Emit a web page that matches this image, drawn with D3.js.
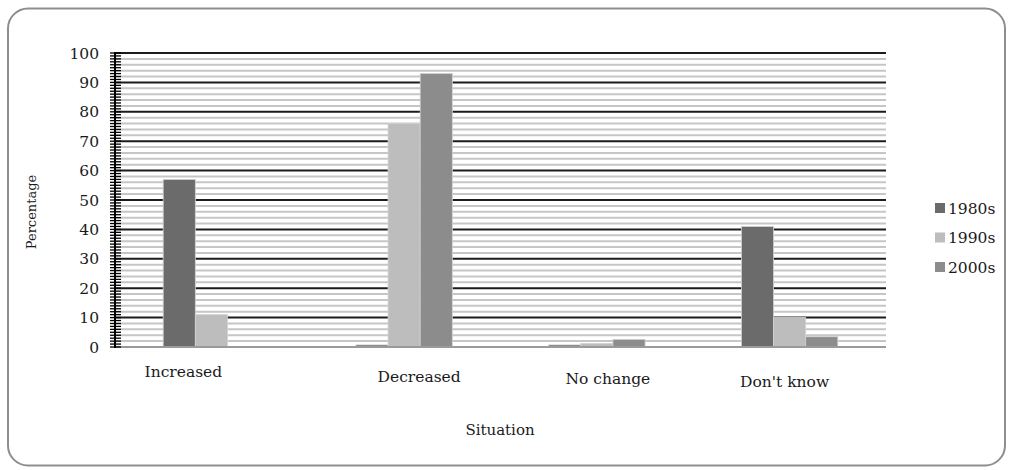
<!DOCTYPE html>
<html>
<head>
<meta charset="utf-8">
<script src="https://cdn.jsdelivr.net/npm/d3@7"></script>
<style>
  html, body { margin: 0; padding: 0; background: #fff; }
  svg { display: block; }
  text { font-family: "DejaVu Serif", "Liberation Serif", serif; fill: #1a1a1a; }
</style>
</head>
<body>
<svg id="chart" width="1012" height="470"></svg>
<script>
// Survey responses by decade (percentage)
const categories = ["Increased", "Decreased", "No change", "Don't know"];
const seriesNames = ["1980s", "1990s", "2000s"];
const values1980s = [57, 0.7, 0.7, 41];
const values1990s = [11, 76, 1.2, 10];
const values2000s = [0, 93, 2.6, 3.5];
const yTickValues = [0, 10, 20, 30, 40, 50, 60, 70, 80, 90, 100];
const seriesColors = ["#6b6b6b", "#bdbdbd", "#8c8c8c"];

const seriesValues = [values1980s, values1990s, values2000s];
const rows = categories.map((c, i) => ({
  category: c,
  values: seriesNames.map((s, j) => ({ series: s, value: seriesValues[j][i] }))
}));

const svg = d3.select("#chart");
const plot = { left: 115, right: 886, top: 53, bottom: 347 };

// outer frame
svg.append("rect")
  .attr("x", 8).attr("y", 8.5)
  .attr("width", 997).attr("height", 457)
  .attr("rx", 20).attr("ry", 20)
  .attr("fill", "#fff")
  .attr("stroke", "#8e8e8e").attr("stroke-width", 2);

const y = d3.scaleLinear().domain([0, 100]).range([plot.bottom, plot.top]);
const x = d3.scaleBand().domain(categories)
  .range([plot.left, plot.right]).paddingInner(0.5).paddingOuter(0.25);
const xSeries = d3.scaleBand().domain(seriesNames).range([0, x.bandwidth()]);
const color = d3.scaleOrdinal().domain(seriesNames).range(seriesColors);

// minor gridlines every 2
const minor = d3.range(2, 100, 2).filter(v => v % 10 !== 0);
svg.append("g").selectAll("line").data(minor).join("line")
  .attr("x1", plot.left).attr("x2", plot.right)
  .attr("y1", d => y(d)).attr("y2", d => y(d))
  .attr("stroke", "#c6c6c6").attr("stroke-width", 2);

// major gridlines every 10
svg.append("g").selectAll("line").data(yTickValues.filter(v => v > 0)).join("line")
  .attr("x1", plot.left).attr("x2", plot.right)
  .attr("y1", d => y(d)).attr("y2", d => y(d))
  .attr("stroke", "#1c1c1c").attr("stroke-width", 2);

// bars
const groups = svg.append("g").selectAll("g").data(rows).join("g")
  .attr("transform", d => `translate(${x(d.category)},0)`);
groups.selectAll("rect").data(d => d.values).join("rect")
  .attr("x", d => xSeries(d.series))
  .attr("width", xSeries.bandwidth())
  .attr("y", d => y(d.value))
  .attr("height", d => y(0) - y(d.value))
  .attr("fill", d => color(d.series))
  .attr("stroke", d => d.value > 0 ? "#d2d2d2" : "none")
  .attr("stroke-width", 0.8);

// baseline
svg.append("line")
  .attr("x1", plot.left).attr("x2", plot.right)
  .attr("y1", y(0)).attr("y2", y(0))
  .attr("stroke", "#9a9a9a").attr("stroke-width", 2);

// y axis with crossing ticks
const yAxis = svg.append("g").attr("transform", `translate(${plot.left},0)`);
yAxis.append("line")
  .attr("x1", 0).attr("x2", 0)
  .attr("y1", y(0) + 1).attr("y2", y(100) - 1)
  .attr("stroke", "#000").attr("stroke-width", 2);
yAxis.selectAll("line.tick").data(d3.range(0, 101, 1)).join("line")
  .attr("class", "tick")
  .attr("x1", -5).attr("x2", 6)
  .attr("y1", d => y(d)).attr("y2", d => y(d))
  .attr("stroke", "#000").attr("stroke-width", 1.3);
yAxis.selectAll("text").data(yTickValues).join("text")
  .attr("x", -16).attr("y", d => y(d))
  .attr("dy", "0.36em")
  .attr("text-anchor", "end")
  .style("font-size", "15.5px")
  .text(d => d);

// category labels
const labelShift = [[-28, -7], [15, -2], [11, 0], [-5, 3]];
svg.append("g").selectAll("text").data(categories).join("text")
  .attr("x", (d, i) => x(d) + x.bandwidth() / 2 + labelShift[i][0])
  .attr("y", (d, i) => 384 + labelShift[i][1])
  .attr("text-anchor", "middle")
  .style("font-size", "15.5px")
  .text(d => d);

// axis titles
svg.append("text")
  .attr("x", 500).attr("y", 435)
  .attr("text-anchor", "middle")
  .style("font-size", "15px")
  .text("Situation");
svg.append("text")
  .attr("transform", "translate(36,212) rotate(-90)")
  .attr("text-anchor", "middle")
  .style("font-size", "13px")
  .text("Percentage");

// legend
const legend = svg.append("g").attr("transform", "translate(935,0)");
const legendY = d3.scalePoint().domain(seriesNames).range([208, 267]);
legend.selectAll("rect").data(seriesNames).join("rect")
  .attr("x", 0).attr("y", d => legendY(d) - 5)
  .attr("width", 10).attr("height", 10)
  .attr("fill", d => color(d));
legend.selectAll("text").data(seriesNames).join("text")
  .attr("x", 13).attr("y", d => legendY(d))
  .attr("dy", "0.36em")
  .style("font-size", "15.5px")
  .text(d => d);
</script>
</body>
</html>
